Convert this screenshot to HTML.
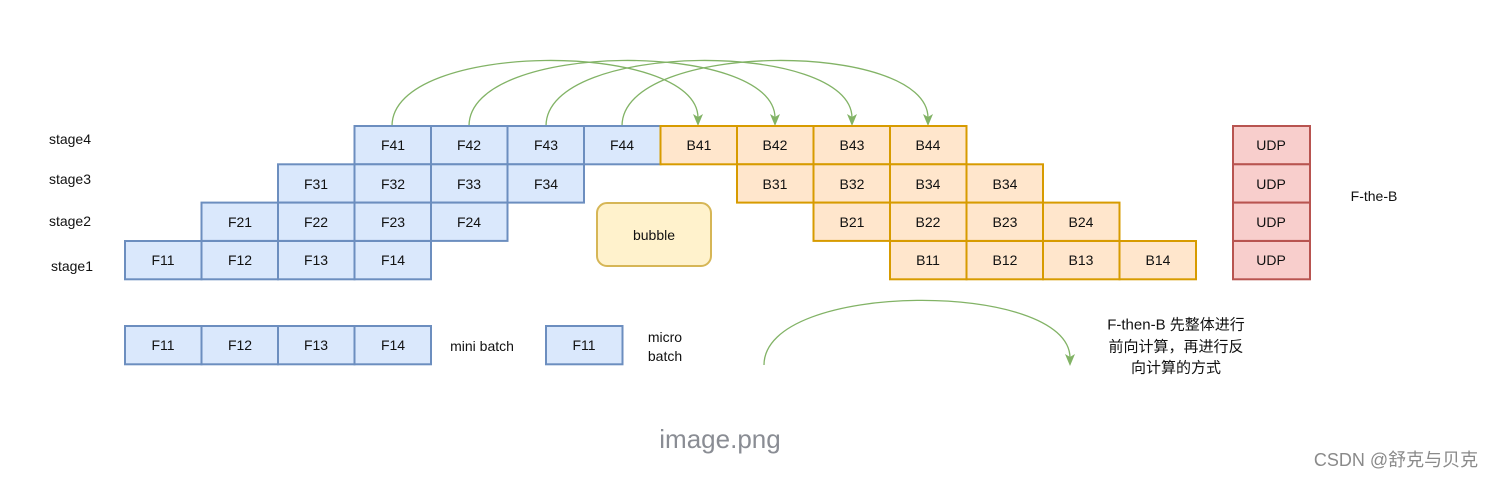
<!DOCTYPE html>
<html><head><meta charset="utf-8"><style>
html,body{margin:0;padding:0;background:#fff;width:1496px;height:478px;overflow:hidden}
svg text{font-family:"Liberation Sans","Noto Sans CJK SC",sans-serif;font-size:14px;fill:#111;text-anchor:middle;dominant-baseline:central}
.b{fill:#dae8fc;stroke:#6c8ebf;stroke-width:2}
.o{fill:#ffe6cc;stroke:#d79b00;stroke-width:2}
.r{fill:#f8cecc;stroke:#b85450;stroke-width:2}
.g{fill:none;stroke:#82b366;stroke-width:1.3}
</style></head><body>
<svg width="1496" height="478" viewBox="0 0 1496 478" xmlns="http://www.w3.org/2000/svg">
<!-- arcs -->
<path class="g" d="M392,126 C392,40 698,40 698,118"/>
<path class="g" d="M469,126 C469,40 775,40 775,118"/>
<path class="g" d="M546,126 C546,40 852,40 852,118"/>
<path class="g" d="M622,126 C622,40 928,40 928,118"/>
<g fill="#82b366">
<path d="M693,114 L698,126 L703,114 L698,117 Z"/>
<path d="M770,114 L775,126 L780,114 L775,117 Z"/>
<path d="M847,114 L852,126 L857,114 L852,117 Z"/>
<path d="M923,114 L928,126 L933,114 L928,117 Z"/>
<path d="M1065,354 L1070,366 L1075,354 L1070,357 Z"/>
</g>
<path class="g" d="M764,365 C764,280 1070,280 1070,358"/>
<!-- stage labels -->
<text x="70" y="139">stage4</text>
<text x="70" y="179">stage3</text>
<text x="70" y="221">stage2</text>
<text x="72" y="266">stage1</text>
<g>
<rect class="b" x="354.5" y="126" width="76.5" height="38.3"/><text x="393" y="145">F41</text>
<rect class="b" x="431" y="126" width="76.5" height="38.3"/><text x="469" y="145">F42</text>
<rect class="b" x="507.5" y="126" width="76.5" height="38.3"/><text x="546" y="145">F43</text>
<rect class="b" x="584" y="126" width="76.5" height="38.3"/><text x="622" y="145">F44</text>
<rect class="o" x="660.5" y="126" width="76.5" height="38.3"/><text x="699" y="145">B41</text>
<rect class="o" x="737" y="126" width="76.5" height="38.3"/><text x="775" y="145">B42</text>
<rect class="o" x="813.5" y="126" width="76.5" height="38.3"/><text x="852" y="145">B43</text>
<rect class="o" x="890" y="126" width="76.5" height="38.3"/><text x="928" y="145">B44</text>
</g>
<g>
<rect class="b" x="278" y="164.3" width="76.5" height="38.3"/><text x="316" y="184">F31</text>
<rect class="b" x="354.5" y="164.3" width="76.5" height="38.3"/><text x="393" y="184">F32</text>
<rect class="b" x="431" y="164.3" width="76.5" height="38.3"/><text x="469" y="184">F33</text>
<rect class="b" x="507.5" y="164.3" width="76.5" height="38.3"/><text x="546" y="184">F34</text>
<rect class="o" x="737" y="164.3" width="76.5" height="38.3"/><text x="775" y="184">B31</text>
<rect class="o" x="813.5" y="164.3" width="76.5" height="38.3"/><text x="852" y="184">B32</text>
<rect class="o" x="890" y="164.3" width="76.5" height="38.3"/><text x="928" y="184">B34</text>
<rect class="o" x="966.5" y="164.3" width="76.5" height="38.3"/><text x="1005" y="184">B34</text>
</g>
<g>
<rect class="b" x="201.5" y="202.6" width="76.5" height="38.3"/><text x="240" y="222">F21</text>
<rect class="b" x="278" y="202.6" width="76.5" height="38.3"/><text x="316" y="222">F22</text>
<rect class="b" x="354.5" y="202.6" width="76.5" height="38.3"/><text x="393" y="222">F23</text>
<rect class="b" x="431" y="202.6" width="76.5" height="38.3"/><text x="469" y="222">F24</text>
<rect class="o" x="813.5" y="202.6" width="76.5" height="38.3"/><text x="852" y="222">B21</text>
<rect class="o" x="890" y="202.6" width="76.5" height="38.3"/><text x="928" y="222">B22</text>
<rect class="o" x="966.5" y="202.6" width="76.5" height="38.3"/><text x="1005" y="222">B23</text>
<rect class="o" x="1043" y="202.6" width="76.5" height="38.3"/><text x="1081" y="222">B24</text>
</g>
<g>
<rect class="b" x="125" y="241" width="76.5" height="38.3"/><text x="163" y="260">F11</text>
<rect class="b" x="201.5" y="241" width="76.5" height="38.3"/><text x="240" y="260">F12</text>
<rect class="b" x="278" y="241" width="76.5" height="38.3"/><text x="316" y="260">F13</text>
<rect class="b" x="354.5" y="241" width="76.5" height="38.3"/><text x="393" y="260">F14</text>
<rect class="o" x="890" y="241" width="76.5" height="38.3"/><text x="928" y="260">B11</text>
<rect class="o" x="966.5" y="241" width="76.5" height="38.3"/><text x="1005" y="260">B12</text>
<rect class="o" x="1043" y="241" width="76.5" height="38.3"/><text x="1081" y="260">B13</text>
<rect class="o" x="1119.5" y="241" width="76.5" height="38.3"/><text x="1158" y="260">B14</text>
</g>
<rect x="597" y="203" width="114" height="63" rx="10" fill="#fff2cc" stroke="#d6b656" stroke-width="2"/>
<text x="654" y="235">bubble</text>
<rect class="r" x="1233" y="126" width="77" height="38.3"/><text x="1271" y="145">UDP</text>
<rect class="r" x="1233" y="164.3" width="77" height="38.3"/><text x="1271" y="184">UDP</text>
<rect class="r" x="1233" y="202.6" width="77" height="38.3"/><text x="1271" y="222">UDP</text>
<rect class="r" x="1233" y="241" width="77" height="38.3"/><text x="1271" y="260">UDP</text>
<text x="1374" y="196">F-the-B</text>
<rect class="b" x="125" y="326" width="76.5" height="38.3"/><text x="163" y="345">F11</text>
<rect class="b" x="201.5" y="326" width="76.5" height="38.3"/><text x="240" y="345">F12</text>
<rect class="b" x="278" y="326" width="76.5" height="38.3"/><text x="316" y="345">F13</text>
<rect class="b" x="354.5" y="326" width="76.5" height="38.3"/><text x="393" y="345">F14</text>
<text x="482" y="346">mini batch</text>
<rect class="b" x="546" y="326" width="76.5" height="38.3"/><text x="584" y="345">F11</text>
<text x="665" y="337">micro</text>
<text x="665" y="356">batch</text>
<text x="1176" y="325" style="font-size:15px">F-then-B 先整体进行</text>
<text x="1176" y="347" style="font-size:15px">前向计算，再进行反</text>
<text x="1176" y="368" style="font-size:15px">向计算的方式</text>
<text x="720" y="439" style="font-size:26px;fill:#8a8d94">image.png</text>
<text x="1396" y="460" style="font-size:18px;fill:#8a8a8a">CSDN @舒克与贝克</text>
</svg>
</body></html>
